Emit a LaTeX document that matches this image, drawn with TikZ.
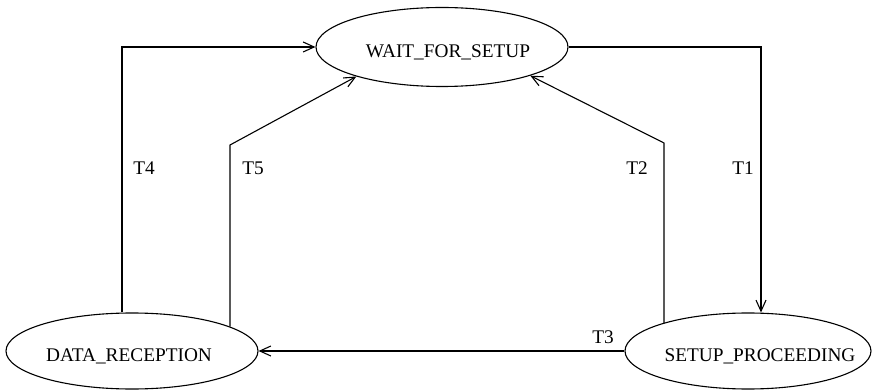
\documentclass[tikz,border=0pt]{standalone}
\usepackage{fontspec}
\setmainfont{Liberation Serif}
\usetikzlibrary{shapes.geometric,arrows.meta}
\tikzset{
  state/.style={draw,ellipse,line width=1.1pt,inner sep=0pt,text height=21pt,text depth=0pt,
    font=\fontsize{19.3}{23}\selectfont},
  trans/.style={line width=1.1pt,-{Straight Barb[length=11pt,width=10pt,line width=1.1pt]}},
  tlabel/.style={font=\fontsize{19.3}{23}\selectfont}
}
\newcommand{\offtext}[2]{\makebox[0pt]{\hspace*{#1}#2}}
\begin{document}
\begin{tikzpicture}[x=1pt,y=-1pt]
\useasboundingbox (0,0) rectangle (873,390);
\node[state,minimum width=252pt,minimum height=79pt] (wait) at (442,47) {\offtext{12pt}{WAIT\_FOR\_SETUP}};
\node[state,minimum width=252pt,minimum height=76pt] (data) at (132,351) {\offtext{-6pt}{DATA\_RECEPTION}};
\node[state,minimum width=246pt,minimum height=76pt] (setup) at (748,351) {\offtext{24pt}{SETUP\_PROCEEDING}};
% bends
\coordinate (c1) at (761,47);
\coordinate (c2) at (664,143);
\coordinate (c4) at (122,47);
\coordinate (c5) at (230,145);
\draw[trans] (wait.east) -- (c1) -- (c1 |- setup.north);
\draw[trans] (setup.162 -| c2) -- (c2) -- (wait.-18);
\draw[trans] (setup.west) -- (data.east);
\draw[trans] (c4 |- data.north) -- (c4) -- (wait.west);
\draw[trans] (data.14 -| c5) -- (c5) -- (wait.199);
% labels
\node[tlabel] (t1) at (743,168) {T1};
\node[tlabel] (t2) at (637,168) {T2};
\node[tlabel] (t3) at (603,337) {T3};
\node[tlabel] (t4) at (144,168) {T4};
\node[tlabel] (t5) at (253,168) {T5};
\end{tikzpicture}
\end{document}
